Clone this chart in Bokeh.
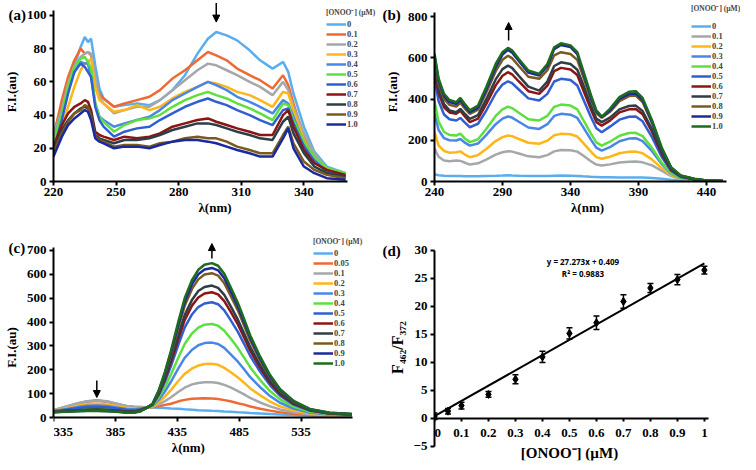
from bokeh.plotting import figure
from bokeh.models import (Legend, LegendItem, FixedTicker, Arrow, NormalHead, Label, Title,
                          Whisker, ColumnDataSource, TeeHead, Range1d)
from bokeh.layouts import column, row
from bokeh.embed import file_html
from bokeh.resources import INLINE

# ---------------- data: panel (a) ----------------
A_X = [220, 224, 227, 230, 233, 235, 236.5, 238, 240, 242, 244, 249, 254, 260, 266, 271, 277, 283,
       289, 294, 298, 303, 308, 314, 319, 325, 330, 332.5, 335, 340, 345, 351, 360]
A_LABELS = ["0", "0.1", "0.2", "0.3", "0.4", "0.5", "0.6", "0.7", "0.8", "0.9", "1.0"]
A_00 = [29, 45, 59, 70, 81, 87, 84, 86, 70, 56, 50, 45, 46, 47, 46, 49, 55, 64, 77, 86, 90, 88, 85, 79, 73, 68, 72, 66, 53, 33, 18, 9, 5]
A_01 = [27, 49, 63, 73, 80, 77, 78, 76, 62, 53, 50, 45, 47, 49, 51, 55, 62, 67, 73, 78, 76, 73, 68, 64, 61, 56, 64, 58, 47, 27, 15, 7, 4]
A_02 = [28, 43, 59, 69, 75, 77, 78, 77, 63, 51, 47, 41, 43, 45, 45, 49, 55, 61, 67, 71, 70, 67, 64, 60, 57, 52, 60, 55, 45, 29, 17, 8, 5]
A_03 = [23, 33, 45, 57, 67, 71, 72, 74, 57, 49, 47, 42, 43, 46, 43, 45, 50, 54, 57, 60, 59, 57, 54, 52, 49, 45, 54, 53, 43, 25, 14, 8, 4]
A_04 = [25, 41, 55, 66, 72, 71, 71, 63, 47, 39, 37, 33, 35, 37, 39, 43, 49, 53, 57, 60, 58, 55, 51, 48, 45, 41, 49, 47, 39, 23, 13, 7, 3]
A_05 = [24, 41, 57, 69, 74, 75, 72, 68, 47, 39, 36, 30, 34, 37, 38, 40, 45, 49, 52, 54, 52, 50, 47, 44, 41, 37, 47, 46, 37, 24, 15, 8, 5]
A_06 = [19, 37, 53, 66, 71, 69, 66, 63, 45, 37, 33, 27, 30, 32, 33, 37, 41, 45, 48, 50, 48, 46, 43, 40, 37, 34, 43, 44, 35, 21, 12, 6, 3]
A_07 = [21, 34, 41, 45, 47, 49, 48, 43, 30, 28, 27, 25, 27, 26, 27, 29, 33, 35, 37, 38, 36, 34, 32, 30, 28, 28, 40, 43, 33, 19, 11, 7, 4]
A_08 = [18, 31, 37, 41, 44, 45, 44, 41, 28, 26, 25, 23, 25, 25, 26, 28, 31, 33, 35, 35, 34, 32, 30, 28, 26, 25, 36, 39, 29, 17, 9, 5, 3]
A_09 = [17, 29, 36, 41, 43, 46, 45, 39, 27, 25, 24, 21, 22, 22, 21, 23, 24, 26, 27, 26, 26, 24, 21, 19, 17, 17, 28, 33, 23, 12, 7, 4, 2]
A_10 = [15, 27, 34, 38, 41, 43, 42, 37, 26, 24, 23, 20, 21, 21, 20, 22, 24, 25, 25, 24, 23, 21, 19, 17, 15, 15, 26, 32, 20, 9, 5, 2, 1]

# ---------------- data: panel (b) ----------------
B_X = [240, 243, 247, 251, 256, 259, 262, 266, 272, 278, 285, 290, 294, 297, 302, 309, 317, 323, 328, 333,
       340, 345, 349, 355, 359, 363, 369, 376, 383, 388, 393, 400, 407, 414, 421, 431, 440, 452]
B_LABELS = ["0", "0.1", "0.2", "0.3", "0.4", "0.5", "0.6", "0.7", "0.8", "0.9", "1.0"]
B_00 = [35, 30, 28, 27, 27, 27, 26, 25, 26, 27, 28, 29, 30, 29, 28, 27, 27, 27, 28, 29, 28, 27, 25, 23, 22, 21, 21, 20, 20, 19, 19, 17, 13, 8, 4, 2, 1, 1]
B_01 = [160, 120, 102, 98, 102, 100, 92, 82, 88, 106, 130, 142, 147, 145, 136, 122, 118, 128, 146, 153, 152, 145, 127, 98, 82, 78, 83, 92, 96, 97, 93, 78, 52, 26, 12, 5, 2, 1]
B_02 = [240, 175, 148, 140, 142, 146, 132, 118, 128, 158, 196, 215, 223, 220, 206, 188, 183, 198, 224, 231, 229, 218, 190, 145, 118, 110, 120, 137, 144, 145, 137, 106, 65, 31, 14, 6, 2, 1]
B_03 = [330, 250, 210, 200, 199, 206, 190, 174, 184, 225, 278, 305, 315, 310, 290, 262, 255, 278, 318, 328, 324, 308, 267, 203, 164, 150, 167, 195, 208, 210, 196, 147, 85, 38, 17, 7, 3, 1]
B_04 = [390, 290, 240, 226, 223, 232, 210, 191, 205, 255, 318, 350, 363, 356, 333, 302, 296, 318, 362, 373, 368, 350, 303, 232, 190, 174, 193, 222, 235, 236, 220, 162, 92, 40, 18, 8, 3, 1]
B_05 = [500, 390, 325, 302, 296, 308, 288, 263, 280, 343, 428, 470, 486, 477, 446, 403, 393, 425, 485, 498, 492, 466, 405, 313, 258, 239, 266, 300, 314, 315, 292, 214, 120, 51, 22, 10, 4, 2]
B_06 = [540, 430, 360, 335, 328, 343, 318, 288, 305, 375, 466, 513, 530, 520, 485, 438, 425, 465, 535, 551, 543, 516, 450, 350, 288, 271, 295, 335, 350, 352, 326, 240, 135, 57, 25, 11, 4, 2]
B_07 = [560, 450, 375, 345, 336, 352, 330, 304, 322, 398, 495, 545, 562, 551, 512, 460, 441, 485, 560, 578, 570, 542, 475, 370, 305, 288, 310, 350, 366, 368, 342, 252, 142, 60, 26, 11, 4, 2]
B_08 = [590, 475, 400, 372, 363, 382, 356, 328, 348, 430, 535, 590, 610, 598, 560, 508, 498, 540, 612, 627, 618, 590, 515, 400, 332, 309, 338, 390, 414, 417, 385, 282, 158, 66, 28, 12, 5, 2]
B_09 = [610, 490, 415, 385, 376, 395, 368, 336, 358, 445, 555, 615, 638, 626, 585, 528, 514, 560, 642, 662, 652, 618, 535, 410, 340, 312, 345, 400, 424, 427, 395, 288, 160, 66, 28, 12, 5, 2]
B_10 = [620, 500, 425, 395, 385, 405, 378, 345, 368, 457, 570, 627, 648, 636, 594, 538, 522, 570, 651, 670, 660, 627, 545, 420, 345, 315, 352, 409, 435, 438, 405, 296, 166, 69, 29, 13, 5, 2]

# ---------------- data: panel (c) ----------------
C_X = [335, 345, 355, 362, 370, 378, 386, 394, 400, 405, 410, 415, 420, 425, 430, 436, 441, 447, 452, 457,
       463, 468, 473, 478, 484, 489, 494, 502, 510, 518, 529, 542, 558, 576]
C_LABELS = ["0", "0.05", "0.1", "0.2", "0.3", "0.4", "0.5", "0.6", "0.7", "0.8", "0.9", "1.0"]
C_XTICKS = [335, 385, 435, 485, 535]
C_00 = [30, 45, 60, 68, 72, 68, 58, 48, 45, 44, 43, 42, 41, 40, 38, 37, 35, 33, 31, 30, 28, 27, 25, 24, 22, 21, 19, 17, 15, 13, 11, 9, 6, 4]
C_005 = [30, 44, 58, 66, 70, 66, 56, 47, 44, 43, 43, 43, 47, 53, 58, 68, 74, 79, 80, 81, 80, 78, 73, 68, 60, 54, 46, 37, 29, 22, 16, 11, 7, 5]
C_01 = [32, 45, 60, 67, 70, 67, 58, 48, 45, 44, 42, 45, 55, 69, 85, 108, 125, 139, 145, 148, 148, 145, 137, 126, 111, 97, 82, 63, 47, 34, 22, 14, 9, 6]
C_02 = [28, 38, 50, 56, 58, 55, 48, 40, 38, 40, 41, 47, 64, 88, 116, 154, 183, 206, 218, 224, 225, 221, 208, 191, 168, 146, 122, 93, 67, 47, 30, 18, 10, 8]
C_03 = [27, 35, 44, 49, 50, 48, 42, 36, 35, 38, 41, 49, 74, 109, 151, 207, 250, 284, 303, 312, 314, 308, 292, 266, 234, 202, 169, 127, 90, 62, 38, 21, 12, 9]
C_04 = [26, 32, 38, 41, 42, 40, 36, 32, 32, 36, 40, 51, 83, 128, 181, 253, 308, 353, 377, 389, 392, 385, 364, 332, 291, 251, 210, 157, 111, 76, 46, 25, 14, 10]
C_05 = [26, 33, 40, 44, 45, 43, 38, 33, 32, 35, 41, 53, 94, 150, 217, 307, 377, 433, 463, 478, 483, 475, 449, 409, 359, 309, 258, 192, 135, 92, 54, 29, 16, 12]
C_06 = [24, 27, 30, 32, 33, 32, 29, 25, 24, 30, 41, 54, 99, 160, 234, 332, 408, 470, 503, 520, 525, 516, 488, 445, 390, 336, 280, 208, 146, 99, 58, 31, 17, 13]
C_07 = [24, 28, 31, 33, 34, 32, 29, 25, 24, 30, 40, 55, 102, 167, 245, 348, 429, 494, 530, 547, 553, 543, 514, 468, 410, 353, 295, 219, 153, 104, 61, 32, 18, 13]
C_08 = [23, 26, 28, 29, 30, 29, 26, 22, 22, 28, 40, 56, 108, 180, 265, 379, 468, 540, 579, 599, 605, 595, 563, 512, 449, 386, 322, 239, 167, 113, 66, 34, 19, 14]
C_09 = [22, 25, 27, 28, 28, 27, 25, 21, 21, 27, 40, 57, 111, 185, 274, 392, 485, 560, 600, 620, 627, 617, 584, 531, 465, 400, 334, 247, 173, 117, 68, 35, 20, 15]
C_10 = [22, 24, 26, 27, 27, 26, 24, 20, 20, 25, 40, 57, 113, 190, 282, 404, 500, 577, 619, 640, 647, 636, 602, 548, 480, 413, 344, 255, 178, 120, 70, 36, 20, 15]

# ---------------- data: panel (d) ----------------
D_X = [0, 0.05, 0.1, 0.2, 0.3, 0.4, 0.5, 0.6, 0.7, 0.8, 0.9, 1.0]
D_Y = [0.4, 1.3, 2.3, 4.3, 7.0, 11.0, 15.2, 17.1, 20.9, 23.3, 24.8, 26.5]
D_ERR = [0.6, 0.5, 0.6, 0.5, 0.8, 1.0, 1.0, 1.2, 1.2, 0.8, 0.9, 0.7]
FIT_SLOPE = 27.273
FIT_INTERCEPT = 0.409
FIT_X = [0, 1]
D_XTICKS = [0, 0.1, 0.2, 0.3, 0.4, 0.5, 0.6, 0.7, 0.8, 0.9, 1]

# ---------------- colours ----------------
LB, OR, GR, YE, BL1, GN, BL2, DR, DS, BR, NV, DG = (
    "#5aaef0", "#ee6a35", "#a5a8ab", "#ffb619", "#4a86e8", "#5ee03c",
    "#2f5fd0", "#8b1515", "#2f3e46", "#7b5a20", "#1a2a9e", "#1d6b1d")
A_COLORS = [LB, OR, GR, YE, BL1, GN, BL2, DR, DS, BR, NV]
B_COLORS = [LB, GR, YE, BL1, GN, BL2, DR, DS, BR, NV, DG]
C_COLORS = [LB, OR, GR, YE, BL1, GN, BL2, DR, DS, BR, NV, DG]

SERIF = "Liberation Serif"
LEG_TITLE = "[ONOO\u207b] (\u00b5M)"
FSP = "\u2007"  # figure space, nudges an edge tick label into view


def base_fig(w, h, xr, yr, ml, mr, mt, mb, xticks, yticks, xlabel, ylabel, xb, yb, xloc="below"):
    p = figure(width=w, height=h, x_range=Range1d(*xr), y_range=Range1d(*yr),
               output_backend="svg", toolbar_location=None, x_axis_location=xloc,
               min_border_left=ml, min_border_right=mr, min_border_top=mt, min_border_bottom=mb)
    p.outline_line_color = None
    p.grid.visible = False
    for ax in (p.xaxis[0], p.yaxis[0]):
        ax.axis_line_width = 2
        ax.axis_line_color = "black"
        ax.major_tick_line_width = 2
        ax.major_tick_line_color = "black"
        ax.major_tick_out = 4
        ax.major_tick_in = 0
        ax.minor_tick_line_color = None
        ax.major_label_text_font = SERIF
        ax.major_label_text_font_style = "bold"
        ax.major_label_text_font_size = "13px"
        ax.major_label_text_color = "black"
        ax.axis_label_text_font = SERIF
        ax.axis_label_text_font_style = "bold"
        ax.axis_label_text_font_size = "13px"
        ax.axis_label_text_color = "black"
    p.xaxis.ticker = FixedTicker(ticks=xticks)
    p.yaxis.ticker = FixedTicker(ticks=yticks)
    p.xaxis.bounds = xb
    p.yaxis.bounds = yb
    if xlabel:
        p.xaxis.axis_label = xlabel
    if ylabel:
        p.yaxis.axis_label = ylabel
    p.xaxis.major_label_standoff = 2
    p.xaxis.axis_label_standoff = 1
    p.yaxis.major_label_standoff = 3
    p.yaxis.axis_label_standoff = 5
    return p


def axis_at_zero(p, standoff, tick_in):
    # x axis sits on y = 0 with its labels hanging below the line
    p.xaxis.fixed_location = 0
    p.xaxis.major_tick_out = 0
    p.xaxis.major_tick_in = tick_in
    p.xaxis.major_label_standoff = standoff


def add_spectra(p, xs, series, colors, labels, lx, ly, standoff):
    rs = []
    for ys, c in zip(series, colors):
        rs.append(p.line(xs, ys, line_color=c, line_width=2.5))
    items = [LegendItem(label=l, renderers=[r]) for l, r in zip(labels, rs)]
    lg = Legend(items=items, location=(lx, ly), title=LEG_TITLE,
                title_text_font=SERIF, title_text_font_style="bold", title_text_font_size="7.5px",
                title_standoff=standoff,
                label_text_font=SERIF, label_text_font_style="bold", label_text_font_size="8.5px",
                label_height=10, glyph_height=10, glyph_width=20, label_standoff=1, label_width=40,
                spacing=0, padding=0, margin=0, border_line_color=None,
                background_fill_alpha=0)
    p.add_layout(lg, "center")


def panel_tag(p, text, off, standoff):
    p.add_layout(Title(text=text, align="left", offset=off, standoff=standoff,
                       text_font=SERIF, text_font_style="bold", text_font_size="15px",
                       text_color="black"), "above")


def text_label(p, x, y, text, size, font=SERIF):
    p.add_layout(Label(x=x, y=y, text=text, text_align="center", text_baseline="middle",
                       text_font=font, text_font_style="bold", text_font_size=size,
                       text_color="black"))


def arrow(p, x, y0, y1):
    p.add_layout(Arrow(end=NormalHead(size=7, fill_color="black", line_color="black"),
                       x_start=x, y_start=y0, x_end=x, y_end=y1,
                       line_width=1.5, line_color="black"))


# ---------------- panel (a) ----------------
pa = base_fig(378, 228, (220, 374.8), (0, 107.8), 47, 2, 2, 46,
              [220, 250, 280, 310, 340], [0, 20, 40, 60, 80, 100], "\u03bb(nm)", "F.I.(au)",
              (220, 361), (0, 103))
add_spectra(pa, A_X, [A_00, A_01, A_02, A_03, A_04, A_05, A_06, A_07, A_08, A_09, A_10],
            A_COLORS, A_LABELS, 273, 52, 2)
panel_tag(pa, "(a)", -45, -41)
arrow(pa, 298, 107.5, 96)

# ---------------- panel (b) ----------------
pb = base_fig(362, 228, (240, 465), (0, 868), 56, 0, 2, 47,
              [240, 290, 340, 390, 440], [0, 200, 400, 600, 800], "\u03bb(nm)", "F.I.(au)",
              (240, 455), (0, 820))
add_spectra(pb, B_X, [B_00, B_01, B_02, B_03, B_04, B_05, B_06, B_07, B_08, B_09, B_10],
            B_COLORS, B_LABELS, 257, 50, 8)
panel_tag(pb, "(b)", -52, -41)
arrow(pb, 294.5, 684, 771)

# ---------------- panel (c) ----------------
pc = base_fig(378, 234, (335, 596), (-180, 767), 47, 2, 6, 2,
              C_XTICKS, [0, 100, 200, 300, 400, 500, 600, 700], None, "F.I.(au)",
              (335, 577), (0, 712), xloc="above")
axis_at_zero(pc, -21, 4)
pc.xaxis.major_label_overrides = {C_XTICKS[0]: FSP * 3 + str(C_XTICKS[0])}
add_spectra(pc, C_X, [C_00, C_005, C_01, C_02, C_03, C_04, C_05, C_06, C_07, C_08, C_09, C_10],
            C_COLORS, C_LABELS, 260, 92, 2)
text_label(pc, 444, -126, "\u03bb(nm)", "13px")
panel_tag(pc, "(c)", -45, -43)
arrow(pc, 463, 666, 729)
arrow(pc, 370, 155, 84)

# ---------------- panel (d) ----------------
pd_ = base_fig(362, 234, (0, 1.03), (-7.5, 32.857), 56, 28, 6, 2,
               D_XTICKS, [-5, 0, 5, 10, 15, 20, 25, 30], None, "F\u2084\u2086\u2082/F\u2083\u2087\u2082",
               (0, 1.015), (-5, 30), xloc="above")
axis_at_zero(pd_, -22, 3)
d_over = {t: str(t) for t in D_XTICKS}
d_over[0] = FSP + "0"
pd_.xaxis.major_label_overrides = d_over
pd_.yaxis.axis_label_text_font_size = "16px"
pd_.line(FIT_X, [FIT_SLOPE * x + FIT_INTERCEPT for x in FIT_X], line_color="black", line_width=2)
src = ColumnDataSource(dict(x=D_X, y=D_Y,
                            lo=[y - e for y, e in zip(D_Y, D_ERR)],
                            hi=[y + e for y, e in zip(D_Y, D_ERR)]))
pd_.add_layout(Whisker(base="x", upper="hi", lower="lo", source=src, line_width=1.5,
                       upper_head=TeeHead(size=6, line_width=1.5),
                       lower_head=TeeHead(size=6, line_width=1.5)))
pd_.scatter("x", "y", source=src, marker="diamond", size=8, color="black")
text_label(pd_, 0.55, 28.0, "y = 27.273x + 0.409", "8px", "Open Sans")
text_label(pd_, 0.55, 25.9, "R\u00b2 = 0.9883", "8px", "Open Sans")
text_label(pd_, 0.5, -6.1, "[ONOO\u207b] (\u00b5M)", "15px")
panel_tag(pd_, "(d)", -52, -49)

layout = column(row(pa, pb), row(pc, pd_))
open("out.html", "w").write(file_html(layout, INLINE))
